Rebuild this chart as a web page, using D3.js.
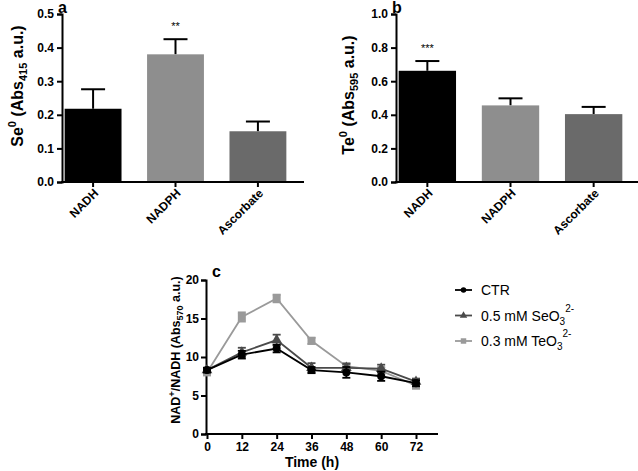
<!DOCTYPE html>
<html><head><meta charset="utf-8">
<script src="https://cdn.jsdelivr.net/npm/d3@7"></script>
<style>
body{margin:0;background:#fff}
svg{font-family:"Liberation Sans",Arial,sans-serif}
.tk text{font-weight:bold;font-size:12px;fill:#000}
</style></head><body>
<script>
const categories = ["NADH","NADPH","Ascorbate"];
const barColors = ["#000000","#8e8e8e","#6a6a6a"];
const seValues = [0.218, 0.380, 0.151];
const seErrors = [0.058, 0.045, 0.029];
const teValues = [0.662, 0.456, 0.404];
const teErrors = [0.058, 0.042, 0.043];
const seStars = ["", "**", ""];
const teStars = ["***", "", ""];
const times = [0,12,24,36,48,60,72];
const ctrValues = [8.3,10.3,11.1,8.3,8.0,7.5,6.6];
const ctrErrors = [0.3,0.5,0.5,0.4,0.7,0.6,0.4];
const seo3Values = [8.3,10.6,12.2,8.6,8.6,8.5,6.8];
const seo3Errors = [0.3,0.6,0.7,0.6,0.5,0.5,0.4];
const teo3Values = [8.0,15.2,17.6,12.1,8.8,8.2,6.3];
const teo3Errors = [0.3,0.6,0.5,0.4,0.4,0.5,0.4];
const seriesNames = ["CTR","0.5 mM SeO","0.3 mM TeO"];

const W=638,H=471;
const svg=d3.select("body").append("svg").attr("width",W).attr("height",H);

function styleAxis(g){
  g.attr("class","tk");
  g.select(".domain").attr("stroke","#000").attr("stroke-width",2);
  g.selectAll(".tick line").attr("stroke","#000").attr("stroke-width",2);
}

function barPanel(x0,x1,yTop,yBot,maxV,vals,errs,stars,letter,labelMain,sub,labelX,labelY){
  const x=d3.scaleBand().domain(categories).range([x0,x1]).paddingInner(0.31).paddingOuter(0.02);
  const y=d3.scaleLinear().domain([0,maxV]).range([yBot,yTop]);
  const ya=svg.append("g").attr("transform",`translate(${x0-1},0)`)
    .call(d3.axisLeft(y).ticks(5).tickFormat(d3.format(".1f")).tickSize(5).tickPadding(3));
  styleAxis(ya);
  const g=svg.append("g");
  categories.forEach((c,i)=>{
    const cx=x(c)+x.bandwidth()/2;
    g.append("line").attr("x1",cx).attr("x2",cx).attr("y1",y(vals[i])).attr("y2",y(vals[i]+errs[i])).attr("stroke","#000").attr("stroke-width",2);
    g.append("line").attr("x1",cx-12).attr("x2",cx+12).attr("y1",y(vals[i]+errs[i])).attr("y2",y(vals[i]+errs[i])).attr("stroke","#000").attr("stroke-width",2);
    g.append("rect").attr("x",x(c)).attr("width",x.bandwidth()).attr("y",y(vals[i])).attr("height",yBot-y(vals[i])).attr("fill",barColors[i]);
    if(stars[i]) g.append("text").attr("x",cx).attr("y",y(vals[i]+errs[i])-9).attr("text-anchor","middle").attr("font-size",11).text(stars[i]);
  });
  const xa=svg.append("g").attr("transform",`translate(0,${yBot})`)
    .call(d3.axisBottom(x).tickSize(5).tickSizeOuter(0).tickFormat(""));
  styleAxis(xa);
  xa.select(".domain").attr("d",`M${x0-2},0H${x1+16}`);
  categories.forEach(c=>{
    const cx=x(c)+x.bandwidth()/2;
    const lg=svg.append("g").attr("transform",`translate(${cx+3},${yBot+9})`);
    lg.append("text").attr("transform","rotate(-45)")
      .attr("text-anchor","end").attr("dy","0.35em").attr("font-weight","bold").attr("font-size",12).text(c);
  });
  svg.append("text").attr("x",x0-5).attr("y",yTop-1).attr("font-weight","bold").attr("font-size",16).text(letter);
  const t=svg.append("text").attr("transform",`translate(${labelX},${labelY}) rotate(-90)`)
    .attr("text-anchor","middle").attr("font-weight","bold").attr("font-size",16);
  t.append("tspan").text(labelMain);
  t.append("tspan").attr("dy",-7).attr("font-size",11).text("0");
  t.append("tspan").attr("dy",7).text(" (Abs");
  t.append("tspan").attr("dy",4).attr("font-size",11).text(sub);
  t.append("tspan").attr("dy",-4).text(" a.u.)");
}

barPanel(63,288,14,182,0.5,seValues,seErrors,seStars,"a","Se","415",23,86);
barPanel(397,624,14,182,1.0,teValues,teErrors,teStars,"b","Te","595",354,95);

// panel c
const xc=d3.scaleLinear().domain([0,72]).range([207,416]);
const yc=d3.scaleLinear().domain([0,20]).range([434,280]);
const yca=svg.append("g").attr("transform","translate(206,0)")
  .call(d3.axisLeft(yc).ticks(4).tickSize(5).tickPadding(2));
styleAxis(yca);
yca.selectAll(".tick text").attr("font-size",13);
const xca=svg.append("g").attr("transform","translate(0,434)")
  .call(d3.axisBottom(xc).tickValues(times).tickSize(5).tickSizeOuter(0).tickPadding(3));
styleAxis(xca);
xca.selectAll(".tick text").attr("font-size",13);
xca.select(".domain").attr("d","M205,0H438");
svg.append("text").attr("x",212).attr("y",277).attr("font-weight","bold").attr("font-size",16).text("c");
svg.append("text").attr("x",312).attr("y",467).attr("text-anchor","middle").attr("font-weight","bold").attr("font-size",14).text("Time (h)");
{
  const t=svg.append("text").attr("transform",`translate(180,350) rotate(-90)`)
    .attr("text-anchor","middle").attr("font-weight","bold").attr("font-size",12.5);
  t.append("tspan").text("NAD");
  t.append("tspan").attr("dy",-5).attr("font-size",9).text("+");
  t.append("tspan").attr("dy",5).text("/NADH (Abs");
  t.append("tspan").attr("dy",3).attr("font-size",9).text("570");
  t.append("tspan").attr("dy",-3).text(" a.u.)");
}
const series=[
  {vals:teo3Values,errs:teo3Errors,color:"#9a9a9a",shape:"square"},
  {vals:seo3Values,errs:seo3Errors,color:"#4a4a4a",shape:"triangle"},
  {vals:ctrValues,errs:ctrErrors,color:"#000000",shape:"circle"}
];
const sym={circle:d3.symbolCircle,triangle:d3.symbolTriangle,square:d3.symbolSquare};
const line=d3.line().x((d,i)=>xc(times[i])).y(d=>yc(d));
series.forEach(s=>{
  const g=svg.append("g");
  g.append("path").datum(s.vals).attr("d",line).attr("fill","none").attr("stroke",s.color).attr("stroke-width",1.8);
  s.vals.forEach((v,i)=>{
    const cx=xc(times[i]);
    g.append("line").attr("x1",cx).attr("x2",cx).attr("y1",yc(v-s.errs[i])).attr("y2",yc(v+s.errs[i])).attr("stroke",s.color).attr("stroke-width",1.8);
    [v-s.errs[i],v+s.errs[i]].forEach(e=>g.append("line").attr("x1",cx-4).attr("x2",cx+4).attr("y1",yc(e)).attr("y2",yc(e)).attr("stroke",s.color).attr("stroke-width",1.8));
    g.append("path").attr("d",d3.symbol().type(sym[s.shape]).size(s.shape==="square"?64:50)())
      .attr("transform",`translate(${cx},${yc(v)})`).attr("fill",s.color);
  });
});
// legend
const leg=[
  {name:seriesNames[0],color:"#000000",shape:"circle",sub:null},
  {name:seriesNames[1],color:"#4a4a4a",shape:"triangle",sub:"3"},
  {name:seriesNames[2],color:"#9a9a9a",shape:"square",sub:"3"}
];
leg.forEach((l,i)=>{
  const y=290+i*25.5;
  svg.append("line").attr("x1",455).attr("x2",472).attr("y1",y).attr("y2",y).attr("stroke",l.color).attr("stroke-width",1.8);
  svg.append("path").attr("d",d3.symbol().type(sym[l.shape]).size(l.shape==="square"?30:24)()).attr("transform",`translate(463.5,${y})`).attr("fill",l.color);
  const t=svg.append("text").attr("x",481).attr("y",y+5).attr("font-size",14);
  t.append("tspan").text(l.name);
  if(l.sub){
    t.append("tspan").attr("dy",4).attr("font-size",10).text("3");
    t.append("tspan").attr("dy",-13).attr("font-size",10).text("2-");
  }
});
</script></body></html>
